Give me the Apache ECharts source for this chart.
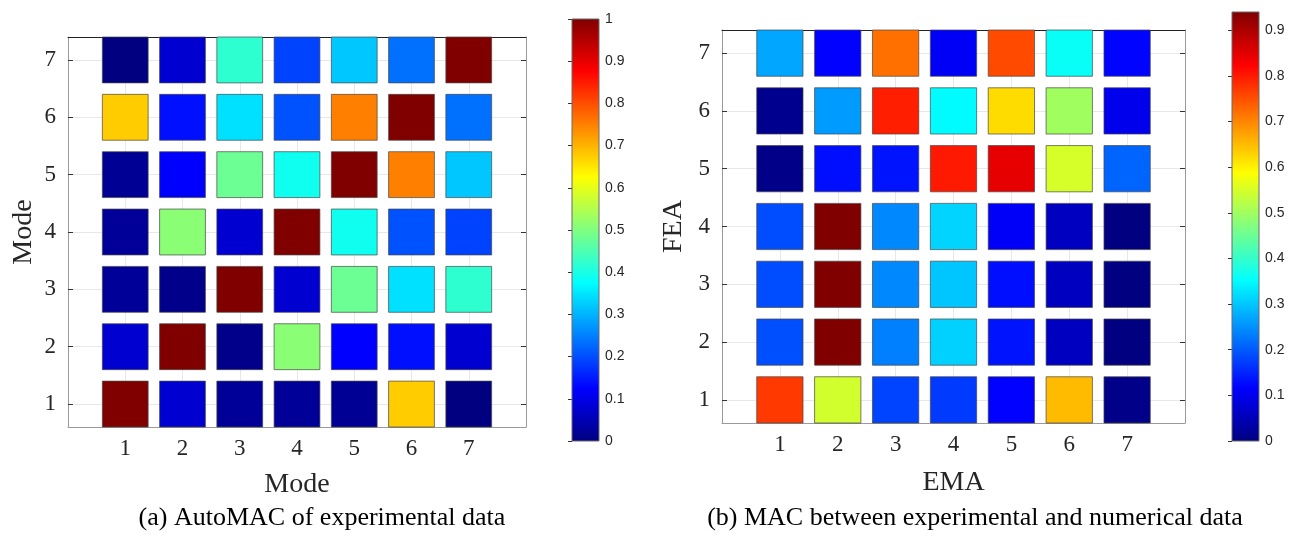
<!DOCTYPE html>
<html>
<head>
<meta charset="utf-8">
<script src="https://cdn.jsdelivr.net/npm/echarts@6/dist/echarts.min.js"></script>
<style>
  html, body { margin: 0; padding: 0; background: #ffffff; }
  #chart { width: 1298px; height: 538px; }
</style>
</head>
<body>
<div id="chart"></div>
<script>
// Mode numbers used on both axes of both matrices
const modes = [1, 2, 3, 4, 5, 6, 7];

// AutoMAC of the experimental modes: autoMacRows[i][j] -> row mode i+1, column mode j+1
const autoMacRows = [
  [1.00, 0.08, 0.025, 0.025, 0.02, 0.675, 0.00],
  [0.08, 1.00, 0.01, 0.51, 0.125, 0.14, 0.08],
  [0.025, 0.01, 1.00, 0.08, 0.48, 0.345, 0.42],
  [0.025, 0.51, 0.08, 1.00, 0.39, 0.205, 0.19],
  [0.02, 0.125, 0.48, 0.39, 1.00, 0.75, 0.32],
  [0.675, 0.14, 0.345, 0.205, 0.75, 1.00, 0.235],
  [0.00, 0.08, 0.42, 0.19, 0.32, 0.235, 1.00]
];

// MAC between EMA (columns) and FEA (rows): macRows[i][j] -> FEA mode i+1, EMA mode j+1
const macRows = [
  [0.77, 0.545, 0.18, 0.17, 0.118, 0.65, 0.008],
  [0.19, 0.94, 0.235, 0.31, 0.135, 0.059, 0.00],
  [0.188, 0.94, 0.243, 0.30, 0.13, 0.059, 0.00],
  [0.188, 0.94, 0.243, 0.313, 0.113, 0.059, 0.00],
  [0.008, 0.13, 0.135, 0.80, 0.846, 0.55, 0.21],
  [0.014, 0.26, 0.795, 0.35, 0.62, 0.50, 0.10],
  [0.27, 0.118, 0.72, 0.11, 0.755, 0.36, 0.12]
];

// Colour limits of each matrix and the ticks of its colour bar
const autoMacLimits = [0, 1];
const macLimits = [0, 0.94];
const autoMacBarTicks = [0, 0.1, 0.2, 0.3, 0.4, 0.5, 0.6, 0.7, 0.8, 0.9, 1];
const macBarTicks = [0, 0.1, 0.2, 0.3, 0.4, 0.5, 0.6, 0.7, 0.8, 0.9];

// Text
const autoMacAxisName = 'Mode';
const macXName = 'EMA';
const macYName = 'FEA';
const captionA = '(a) AutoMAC of experimental data';
const captionB = '(b) MAC between experimental and numerical data';

// Jet colormap stops (evenly spaced)
const jet = ['#000080', '#0000ff', '#0080ff', '#00ffff', '#80ff80',
             '#ffff00', '#ff8000', '#ff0000', '#800000'];

const SERIF = '"Liberation Serif", "DejaVu Serif", serif';
const SANS = '"Liberation Sans", Arial, sans-serif';
const TEXT = '#262626';
const BOX = '#9a9a9a';
const GRIDLINE = '#e8e8e8';

function toCells(rows) {
  const out = [];
  rows.forEach((row, i) => row.forEach((v, j) => out.push([modes[j], modes[i], v])));
  return out;
}

// square cell, 0.8 units wide, centred on its mode pair
function renderCell(params, api) {
  const x = api.value(0), y = api.value(1);
  const p0 = api.coord([x - 0.4, y + 0.4]);
  const p1 = api.coord([x + 0.4, y - 0.4]);
  return {
    type: 'rect',
    shape: { x: p0[0], y: p0[1], width: p1[0] - p0[0], height: p1[1] - p0[1] },
    style: { fill: api.visual('color'), stroke: 'rgba(70,70,70,0.7)', lineWidth: 1 }
  };
}

// gradient strip spanning the colour limits
function renderColorbar(params, api) {
  const p0 = api.coord([0, api.value(1)]);
  const p1 = api.coord([1, api.value(0)]);
  const stops = jet.map((c, k) => ({ offset: k / (jet.length - 1), color: c }));
  return {
    type: 'rect',
    shape: { x: p0[0], y: p0[1], width: p1[0] - p0[0], height: p1[1] - p0[1] },
    style: {
      fill: new echarts.graphic.LinearGradient(0, 1, 0, 0, stops),
      stroke: '#6a6a6a', lineWidth: 1
    }
  };
}

function matrixAxes(g, xName, yName, nameGapX, nameGapY) {
  const xs = [
    {
      gridIndex: g, type: 'value', min: 0, max: 8, position: 'bottom',
      axisLine: { show: true, onZero: false, lineStyle: { color: BOX, width: 1 } },
      axisTick: { show: false, customValues: modes },
      axisLabel: { customValues: modes, fontFamily: SERIF, fontSize: 23, color: TEXT, margin: 10 },
      splitLine: { show: true, customValues: modes, lineStyle: { color: GRIDLINE, width: 1 } },
      name: xName, nameLocation: 'middle', nameGap: nameGapX,
      nameTextStyle: { fontFamily: SERIF, fontSize: 28, color: TEXT }
    },
    {
      gridIndex: g, type: 'value', min: 0, max: 8, position: 'top',
      axisLine: { show: true, onZero: false, lineStyle: { color: '#222222', width: 1 } },
      axisTick: { show: false }, axisLabel: { show: false }, splitLine: { show: false }
    }
  ];
  const ys = [
    {
      gridIndex: g, type: 'value', min: 0.6, max: 7.4, position: 'left',
      axisLine: { show: true, onZero: false, lineStyle: { color: BOX, width: 1 } },
      axisTick: { show: true, inside: true, length: 5, customValues: modes, lineStyle: { color: '#333333' } },
      axisLabel: { customValues: modes, fontFamily: SERIF, fontSize: 23, color: TEXT, margin: 12 },
      splitLine: { show: true, customValues: modes, lineStyle: { color: GRIDLINE, width: 1 } },
      name: yName, nameLocation: 'middle', nameGap: nameGapY, nameRotate: 90,
      nameTextStyle: { fontFamily: SERIF, fontSize: 28, color: TEXT }
    },
    {
      gridIndex: g, type: 'value', min: 0.6, max: 7.4, position: 'right',
      axisLine: { show: true, onZero: false, lineStyle: { color: BOX, width: 1 } },
      axisTick: { show: true, inside: true, length: 5, customValues: modes, lineStyle: { color: '#333333' } },
      axisLabel: { show: false }, splitLine: { show: false }
    }
  ];
  return { xs, ys };
}

function colorbarAxes(g, limits, ticks) {
  return {
    x: { gridIndex: g, type: 'value', min: 0, max: 1, show: false },
    y: {
      gridIndex: g, type: 'value', min: limits[0], max: limits[1], position: 'right',
      axisLine: { show: false },
      axisTick: { show: true, inside: true, length: 4, customValues: ticks, lineStyle: { color: '#333333' } },
      axisLabel: {
        customValues: ticks, fontFamily: SANS, fontSize: 14, color: TEXT, margin: 6,
        formatter: v => String(Math.round(v * 10) / 10)
      },
      splitLine: { show: false }
    }
  };
}

const a = matrixAxes(0, autoMacAxisName, autoMacAxisName, 44, 30);
const b = matrixAxes(1, macXName, macYName, 46, 34);
const ca = colorbarAxes(2, autoMacLimits, autoMacBarTicks);
const cb = colorbarAxes(3, macLimits, macBarTicks);

const chart = echarts.init(document.getElementById('chart'), null, { renderer: 'canvas' });
chart.setOption({
  animation: false,
  backgroundColor: '#ffffff',
  grid: [
    { left: 68, top: 37, width: 458, height: 390 },
    { left: 722, top: 30, width: 463, height: 393 },
    { left: 572, top: 19, width: 27, height: 422 },
    { left: 1232, top: 12, width: 27, height: 429 }
  ],
  xAxis: [a.xs[0], a.xs[1], b.xs[0], b.xs[1], ca.x, cb.x],
  yAxis: [a.ys[0], a.ys[1], b.ys[0], b.ys[1], ca.y, cb.y],
  visualMap: [
    { type: 'continuous', show: false, seriesIndex: 0, dimension: 2,
      min: autoMacLimits[0], max: autoMacLimits[1], inRange: { color: jet } },
    { type: 'continuous', show: false, seriesIndex: 1, dimension: 2,
      min: macLimits[0], max: macLimits[1], inRange: { color: jet } }
  ],
  series: [
    { type: 'custom', xAxisIndex: 0, yAxisIndex: 0, data: toCells(autoMacRows),
      renderItem: renderCell, z: 5 },
    { type: 'custom', xAxisIndex: 2, yAxisIndex: 2, data: toCells(macRows),
      renderItem: renderCell, z: 5 },
    { type: 'custom', xAxisIndex: 4, yAxisIndex: 4, data: [autoMacLimits],
      renderItem: renderColorbar, z: 1 },
    { type: 'custom', xAxisIndex: 5, yAxisIndex: 5, data: [macLimits],
      renderItem: renderColorbar, z: 1 }
  ],
  graphic: [
    { type: 'text', x: 322, y: 518, style: { text: captionA, font: '26px ' + SERIF,
      fill: '#000000', textAlign: 'center', textVerticalAlign: 'middle' } },
    { type: 'text', x: 975, y: 518, style: { text: captionB, font: '26px ' + SERIF,
      fill: '#000000', textAlign: 'center', textVerticalAlign: 'middle' } }
  ]
});
</script>
</body>
</html>
